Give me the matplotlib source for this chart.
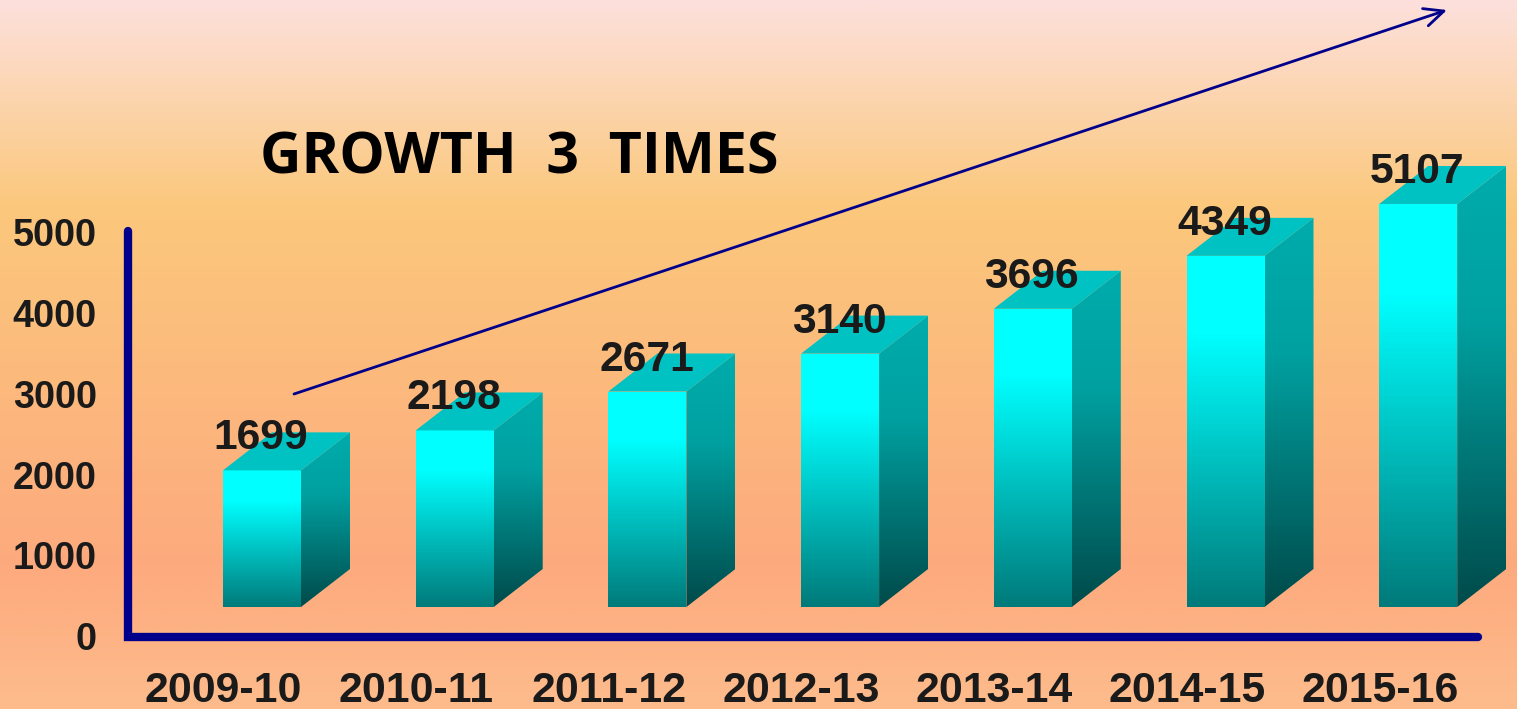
import numpy as np
import matplotlib
matplotlib.use('Agg')
import matplotlib.pyplot as plt
from matplotlib.colors import LinearSegmentedColormap
from matplotlib.patches import Polygon

plt.rcParams['font.family'] = ['Liberation Sans', 'DejaVu Sans']

years = ['2009-10', '2010-11', '2011-12', '2012-13', '2013-14', '2014-15', '2015-16']
values = [1699, 2198, 2671, 3140, 3696, 4349, 5107]
# drawn height of each column (not quite the label value)
heights = [1691, 2185, 2667, 3136, 3691, 4346, 4988]
yticks = [0, 1000, 2000, 3000, 4000, 5000]

W, H = 1517, 709
fig = plt.figure(figsize=(W/100, H/100), dpi=100)

# background gradient
bg = fig.add_axes([0, 0, 1, 1], zorder=0)
bg_cmap = LinearSegmentedColormap.from_list('bg', [(0, '#fde0dc'), (0.29, '#fbc87c'), (0.8, '#fdaa7e'), (1, '#fdbc8c')])
bg.imshow(np.linspace(0, 1, 256)[:, None], cmap=bg_cmap, aspect='auto', extent=[0, 1, 0, 1])
bg.axis('off')

# axes: y=0 at pixel row 637, 5000 at row 233; x index 0 at col 262, step 192.7
x0, xstep = 262, 192.7
py = 404/5000
ax = fig.add_axes([0, 0, 1, 1], zorder=1)
ax.patch.set_alpha(0)
ax.axis('off')

bar_w = 78/xstep
floor = 30/py
dx, dy = 49/xstep, 38/py

front = LinearSegmentedColormap.from_list('front', [(0, '#00ffff'), (0.22, '#00ffff'), (1, '#007a7a')])
side = LinearSegmentedColormap.from_list('side', [(0, '#00acac'), (0.35, '#00a0a0'), (1, '#004a4a')])


def gradient_face(pts, cmap):
    xs = [p[0] for p in pts]
    ys = [p[1] for p in pts]
    im = ax.imshow(np.linspace(0, 1, 128)[:, None], cmap=cmap, aspect='auto',
                   extent=[min(xs), max(xs), min(ys), max(ys)], origin='upper', zorder=2)
    im.set_clip_path(Polygon(pts, closed=True, transform=ax.transData))


for i, h in enumerate(heights):
    l, r = i - bar_w/2, i + bar_w/2
    b, t = floor, floor + h
    gradient_face([(r, b), (r + dx, b + dy), (r + dx, t + dy), (r, t)], side)
    gradient_face([(l, b), (r, b), (r, t), (l, t)], front)
    ax.add_patch(Polygon([(l, t), (r, t), (r + dx, t + dy), (l + dx, t + dy)], closed=True,
                         facecolor='#00c2c2', edgecolor='none', zorder=2))
    ax.text(i - 0.005, t + 32/py, str(values[i]), ha='center', va='center', fontsize=30.7, fontweight='bold',
            color='#1a1a1a', zorder=4)
    ax.text(i - 0.2, -670, years[i], ha='center', va='center', fontsize=30.8, fontweight='bold', color='#1a1a1a')

ax.set_xlim((0 - x0)/xstep, (W - x0)/xstep)
ax.set_ylim(-(H - 637)/py, 637/py)

for t in yticks:
    ax.text((97 - x0)/xstep, t - 40, str(t), ha='right', va='center', fontsize=27.2, fontweight='bold', color='#1a1a1a')

# axis lines
ax.plot([(128 - x0)/xstep, (128 - x0)/xstep, (1478 - x0)/xstep], [5020, 0, 0], color='#00008b', lw=6,
        solid_capstyle='round', solid_joinstyle='miter', zorder=3)

# growth arrow
ax.annotate('', xy=((1447 - x0)/xstep, (637 - 10)/py), xytext=((294 - x0)/xstep, (637 - 394)/py),
            arrowprops=dict(arrowstyle='->,head_length=1.4,head_width=0.65', color='#00008b', lw=2,
                            shrinkA=0, shrinkB=0), zorder=5)

ax.text((260 - x0)/xstep, (637 - 158)/py, 'GROWTH  3  TIMES', ha='left', va='center', fontsize=41.2,
        fontweight='bold', color='black', family=['Open Sans', 'DejaVu Sans'])

fig.savefig('out.png', dpi=100)
